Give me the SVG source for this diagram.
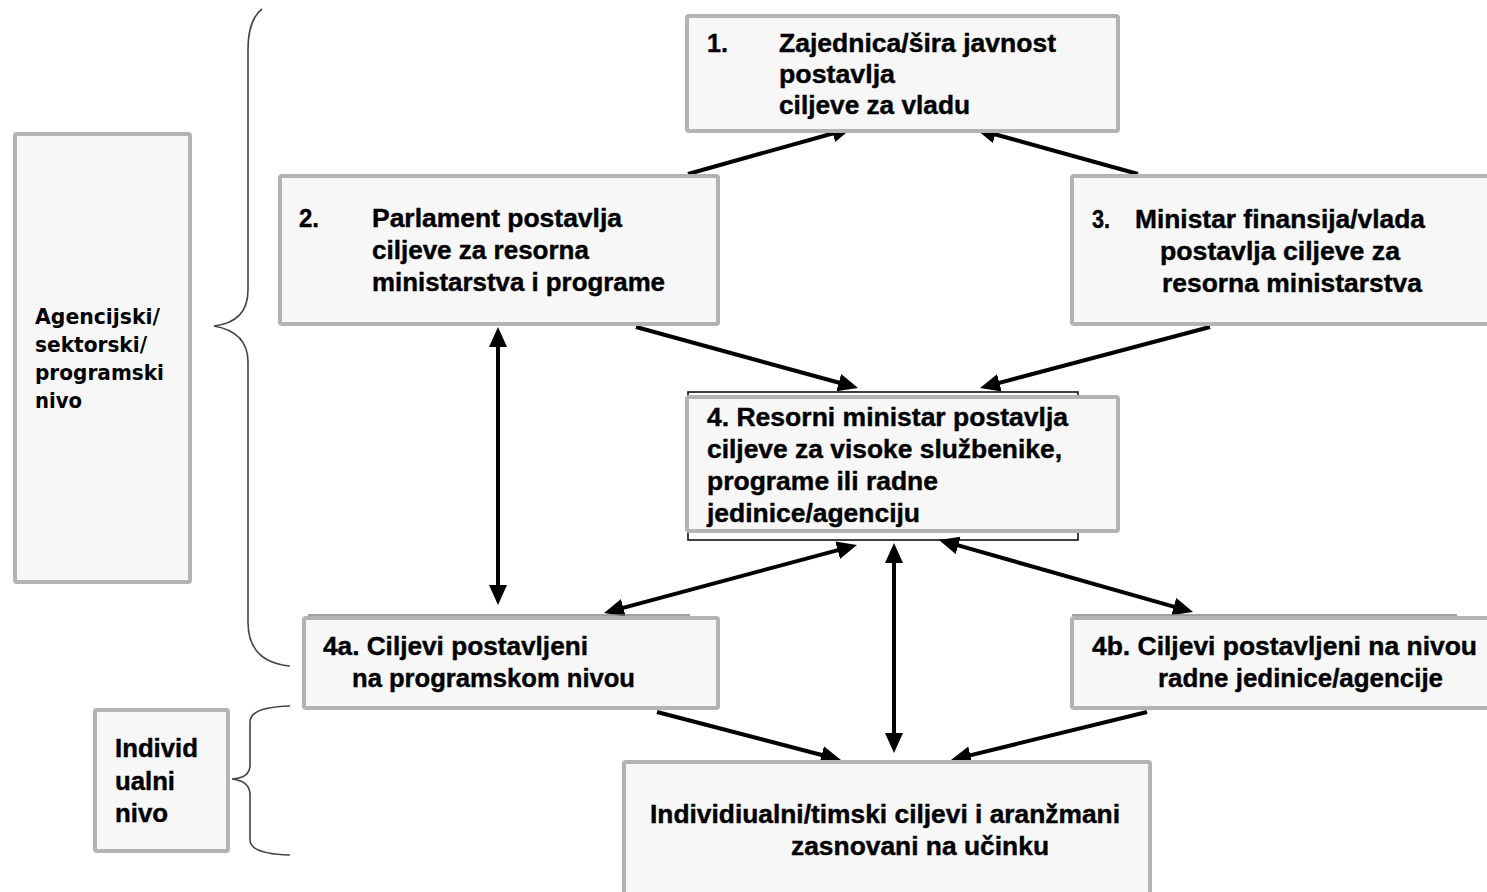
<svg xmlns="http://www.w3.org/2000/svg" width="1487" height="892" viewBox="0 0 1487 892">
<style>
.box{fill:#f7f7f7;stroke:#b3b3b3;stroke-width:4}
.t{font-family:"Liberation Sans",Arial,sans-serif;font-weight:bold;font-size:25px;fill:#000;stroke:#000;stroke-width:0.4}
.ta{font-family:"DejaVu Sans",sans-serif;font-weight:bold;font-size:21px;fill:#000}
.c{stroke:#000;stroke-width:4;fill:none}
.brace{stroke:#444;stroke-width:1.6;fill:none}
.thin{stroke:#000;stroke-width:1.5;fill:none}
.thing{stroke:#808080;stroke-width:1.5;fill:none}
</style>
<defs>
<marker id="ah" markerUnits="userSpaceOnUse" markerWidth="22" markerHeight="20" refX="10" refY="9" orient="auto-start-reverse" viewBox="0 0 22 20">
<path d="M0,0 L20,9 L0,18 z" fill="#000"/>
</marker>
</defs>
<rect width="1487" height="892" fill="#fff"/>
<g id="connectors">
<line class="c" x1="688" y1="174" x2="842.4" y2="130.7" marker-end="url(#ah)"/>
<line class="c" x1="1138" y1="174" x2="985.6" y2="131.7" marker-end="url(#ah)"/>
<line class="c" x1="636" y1="327" x2="848.4" y2="385.3" marker-end="url(#ah)"/>
<line class="c" x1="1210" y1="327" x2="989.7" y2="385.4" marker-end="url(#ah)"/>
<line class="c" x1="498" y1="337" x2="498" y2="595" marker-start="url(#ah)" marker-end="url(#ah)"/>
<line class="c" x1="847.3" y1="547.6" x2="613.7" y2="610.4" marker-start="url(#ah)" marker-end="url(#ah)"/>
<line class="c" x1="894" y1="553" x2="894" y2="743" marker-start="url(#ah)" marker-end="url(#ah)"/>
<line class="c" x1="948.6" y1="542.7" x2="1183.4" y2="609.3" marker-start="url(#ah)" marker-end="url(#ah)"/>
<line class="c" x1="657" y1="712" x2="831.3" y2="757.5" marker-end="url(#ah)"/>
<line class="c" x1="1147" y1="712" x2="960.7" y2="757.6" marker-end="url(#ah)"/>
</g>
<g id="brace-agency">
<path class="brace" d="M262,9 Q248,20 248,50 L248,290 Q248,322 214,326 Q248,332 248,362 L248,622 Q248,662 290,666"/>
</g>
<g id="brace-individual">
<path class="brace" d="M290,706 Q250,707 250,722 L250,765 Q250,778 232,779 Q250,781 250,795 L250,840 Q250,854 290,855"/>
</g>
<g id="n1">
<rect class="box" x="687" y="16" width="431" height="115" rx="2"/>
<text class="t" x="707" y="52" textLength="21" lengthAdjust="spacingAndGlyphs">1.</text>
<text class="t" x="779" y="52" textLength="277" lengthAdjust="spacingAndGlyphs">Zajednica/šira javnost</text>
<text class="t" x="779" y="83" textLength="116" lengthAdjust="spacingAndGlyphs">postavlja</text>
<text class="t" x="779" y="114" textLength="191" lengthAdjust="spacingAndGlyphs">ciljeve za vladu</text>
</g>
<g id="n2">
<rect class="box" x="280" y="176" width="438" height="148" rx="2"/>
<text class="t" x="299" y="227" textLength="20" lengthAdjust="spacingAndGlyphs">2.</text>
<text class="t" x="372" y="227" textLength="250" lengthAdjust="spacingAndGlyphs">Parlament postavlja</text>
<text class="t" x="372" y="259" textLength="217" lengthAdjust="spacingAndGlyphs">ciljeve za resorna</text>
<text class="t" x="372" y="291" textLength="293" lengthAdjust="spacingAndGlyphs">ministarstva i programe</text>
</g>
<g id="n3">
<rect class="box" x="1072" y="176" width="430" height="148" rx="2"/>
<text class="t" x="1092" y="228" textLength="18" lengthAdjust="spacingAndGlyphs">3.</text>
<text class="t" x="1135" y="228" textLength="290" lengthAdjust="spacingAndGlyphs">Ministar finansija/vlada</text>
<text class="t" x="1160" y="260" textLength="240" lengthAdjust="spacingAndGlyphs">postavlja ciljeve za</text>
<text class="t" x="1162" y="292" textLength="260" lengthAdjust="spacingAndGlyphs">resorna ministarstva</text>
</g>
<g id="n-agency">
<rect class="box" x="15" y="134" width="175" height="448" rx="2"/>
<text class="ta" x="35" y="324" textLength="125" lengthAdjust="spacingAndGlyphs">Agencijski/</text>
<text class="ta" x="35" y="352" textLength="112" lengthAdjust="spacingAndGlyphs">sektorski/</text>
<text class="ta" x="35" y="380" textLength="129" lengthAdjust="spacingAndGlyphs">programski</text>
<text class="ta" x="35" y="408" textLength="47" lengthAdjust="spacingAndGlyphs">nivo</text>
</g>
<g id="n4">
<rect class="thin" x="688" y="392" width="390" height="148"/>
<rect class="box" x="687" y="397" width="431" height="134" rx="2"/>
<text class="t" x="707" y="426" textLength="361" lengthAdjust="spacingAndGlyphs">4. Resorni ministar postavlja</text>
<text class="t" x="707" y="458" textLength="355" lengthAdjust="spacingAndGlyphs">ciljeve za visoke službenike,</text>
<text class="t" x="707" y="490" textLength="231" lengthAdjust="spacingAndGlyphs">programe ili radne</text>
<text class="t" x="707" y="522" textLength="213" lengthAdjust="spacingAndGlyphs">jedinice/agenciju</text>
</g>
<g id="n4a">
<line class="thing" x1="308" y1="615" x2="690" y2="615"/>
<rect class="box" x="304" y="618" width="414" height="90" rx="2"/>
<text class="t" x="323" y="655" textLength="265" lengthAdjust="spacingAndGlyphs">4a. Ciljevi postavljeni</text>
<text class="t" x="352" y="687" textLength="283" lengthAdjust="spacingAndGlyphs">na programskom nivou</text>
</g>
<g id="n4b">
<line class="thing" x1="1072" y1="615" x2="1457" y2="615"/>
<rect class="box" x="1072" y="618" width="430" height="90" rx="2"/>
<text class="t" x="1092" y="655" textLength="385" lengthAdjust="spacingAndGlyphs">4b. Ciljevi postavljeni na nivou</text>
<text class="t" x="1158" y="687" textLength="285" lengthAdjust="spacingAndGlyphs">radne jedinice/agencije</text>
</g>
<g id="n-individual">
<rect class="box" x="95" y="710" width="133" height="141" rx="2"/>
<text class="t" x="115" y="757" textLength="83" lengthAdjust="spacingAndGlyphs">Individ</text>
<text class="t" x="115" y="790" textLength="60" lengthAdjust="spacingAndGlyphs">ualni</text>
<text class="t" x="115" y="822" textLength="53" lengthAdjust="spacingAndGlyphs">nivo</text>
</g>
<g id="n5">
<rect class="box" x="624" y="762" width="526" height="140" rx="2"/>
<text class="t" x="650" y="823" textLength="470" lengthAdjust="spacingAndGlyphs">Individiualni/timski ciljevi i aranžmani</text>
<text class="t" x="791" y="855" textLength="258" lengthAdjust="spacingAndGlyphs">zasnovani na učinku</text>
</g>
</svg>
